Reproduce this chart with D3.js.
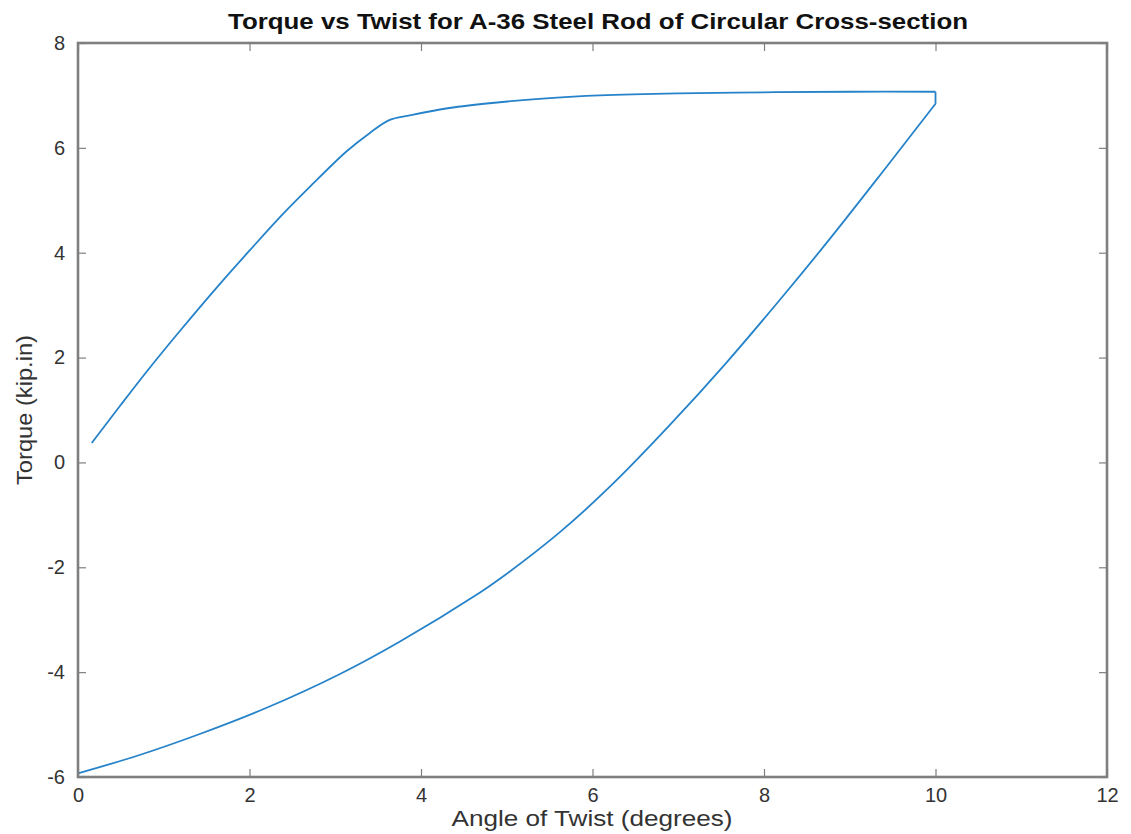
<!DOCTYPE html>
<html>
<head>
<meta charset="utf-8">
<script src="https://cdn.jsdelivr.net/npm/d3@7"></script>
<style>
  html, body { margin: 0; padding: 0; background: #fff; }
  svg { display: block; font-family: "Liberation Sans", Arial, Helvetica, sans-serif; }
</style>
</head>
<body>
<div id="chart"></div>
<script>
// Torque vs twist loop
const loadTwist  = [0.16, 0.5, 0.8, 1.2, 1.62, 2.0, 2.35, 2.7, 3.13, 3.4, 3.63, 3.87, 4.33, 4.92, 5.5, 6.08, 7, 8, 9, 10];
const loadTorque = [0.37, 1.1, 1.73, 2.53, 3.34, 4.04, 4.67, 5.25, 5.93, 6.28, 6.53, 6.62, 6.76, 6.87, 6.95, 7.0, 7.04, 7.06, 7.07, 7.07];
const unloadTwist  = [10, 10, 9.43, 8.8, 8.21, 7.56, 6.9, 6.23, 5.62, 4.92, 4.68, 3.75, 3.05, 2.2, 1.42, 0.7, 0];
const unloadTorque = [7.07, 6.84, 5.64, 4.33, 3.15, 1.9, 0.71, -0.42, -1.33, -2.22, -2.49, -3.42, -4.04, -4.68, -5.18, -5.59, -5.93];
const xTicks = [0, 2, 4, 6, 8, 10, 12];
const yTicks = [-6, -4, -2, 0, 2, 4, 6, 8];

const W = 1131, H = 834;
const margin = { left: 78, top: 43, right: W - 1107, bottom: H - 777 };
const iw = W - margin.left - margin.right;
const ih = H - margin.top - margin.bottom;

const svg = d3.select('#chart').append('svg')
  .attr('width', W).attr('height', H);

const x = d3.scaleLinear().domain([0, 12]).range([0, iw]);
const y = d3.scaleLinear().domain([-6, 8]).range([ih, 0]);

const g = svg.append('g').attr('transform', `translate(${margin.left},${margin.top})`);

const axisColor = '#7f7f7f';
const lineColor = '#2683c9';
const tickLen = 8;
const fmt = d => String(d); // plain hyphen minus, like the original

// data line: loading branch, then drop + unloading branch
const loadPts = loadTwist.map((t, i) => [t, loadTorque[i]]);
const unloadPts = unloadTwist.map((t, i) => [t, unloadTorque[i]]);

const smoothLine = d3.line().x(d => x(d[0])).y(d => y(d[1])).curve(d3.curveCatmullRom.alpha(0.5));
const plainLine = d3.line().x(d => x(d[0])).y(d => y(d[1]));

g.append('path')
  .datum(loadPts)
  .attr('fill', 'none')
  .attr('stroke', lineColor)
  .attr('stroke-width', 1.8)
  .attr('stroke-linejoin', 'round')
  .attr('d', smoothLine);

g.append('path')
  .datum(unloadPts.slice(0, 2))
  .attr('fill', 'none')
  .attr('stroke', lineColor)
  .attr('stroke-width', 1.8)
  .attr('d', plainLine);

g.append('path')
  .datum(unloadPts.slice(1))
  .attr('fill', 'none')
  .attr('stroke', lineColor)
  .attr('stroke-width', 1.8)
  .attr('stroke-linejoin', 'round')
  .attr('d', smoothLine);

// axes (inward ticks on all four sides)
function styleAxis(sel) {
  sel.select('.domain').remove();
  sel.selectAll('.tick line').attr('stroke', axisColor).attr('stroke-width', 1.2);
  sel.selectAll('.tick text').attr('fill', '#333').attr('font-size', 20);
}

g.append('g').attr('transform', `translate(0,${ih})`)
  .call(d3.axisBottom(x).tickValues(xTicks).tickSizeInner(-tickLen).tickSizeOuter(0).tickPadding(11).tickFormat(fmt))
  .call(styleAxis);
g.append('g')
  .call(d3.axisTop(x).tickValues(xTicks).tickSizeInner(-tickLen).tickSizeOuter(0).tickFormat(''))
  .call(styleAxis);
g.append('g')
  .call(d3.axisLeft(y).tickValues(yTicks).tickSizeInner(-tickLen).tickSizeOuter(0).tickPadding(13).tickFormat(fmt))
  .call(styleAxis);
g.append('g').attr('transform', `translate(${iw},0)`)
  .call(d3.axisRight(y).tickValues(yTicks).tickSizeInner(-tickLen).tickSizeOuter(0).tickFormat(''))
  .call(styleAxis);

// box
g.append('rect')
  .attr('width', iw).attr('height', ih)
  .attr('fill', 'none')
  .attr('stroke', axisColor)
  .attr('stroke-width', 2.6);

// titles
svg.append('text')
  .attr('x', 598).attr('y', 29)
  .attr('text-anchor', 'middle')
  .attr('font-size', 22).attr('font-weight', 'bold').attr('fill', '#111')
  .attr('textLength', 740).attr('lengthAdjust', 'spacingAndGlyphs')
  .text('Torque vs Twist for A-36 Steel Rod of Circular Cross-section');

svg.append('text')
  .attr('x', 592).attr('y', 826)
  .attr('text-anchor', 'middle')
  .attr('font-size', 22).attr('fill', '#333')
  .attr('textLength', 281).attr('lengthAdjust', 'spacingAndGlyphs')
  .text('Angle of Twist (degrees)');

svg.append('text')
  .attr('transform', `translate(32,410) rotate(-90)`)
  .attr('text-anchor', 'middle')
  .attr('font-size', 22).attr('fill', '#333')
  .attr('textLength', 150).attr('lengthAdjust', 'spacingAndGlyphs')
  .text('Torque (kip.in)');
</script>
</body>
</html>
